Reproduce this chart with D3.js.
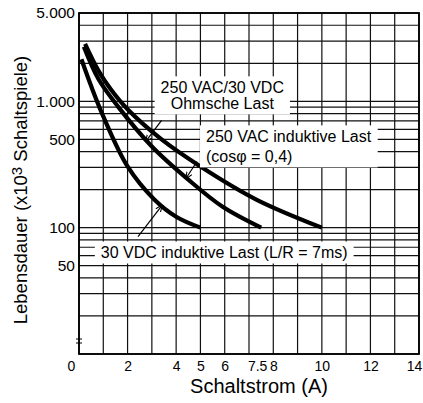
<!DOCTYPE html>
<html lang="de">
<head>
<meta charset="utf-8">
<title>Lebensdauer</title>
<script src="https://cdn.jsdelivr.net/npm/d3@7"></script>
<style>
  body { margin: 0; background: #fff; }
  text { font-family: "Liberation Sans", Arial, sans-serif; fill: #000; }
</style>
</head>
<body>
<script>
// Werte (Strom in A, Lebensdauer in x10^3 Schaltspielen)
var xTicks = [0, 2, 4, 5, 6, 7.5, 8, 10, 12, 14];
var yTicks = [50, 100, 500, 1000, 5000];
var yTickLabels = ["50", "100", "500", "1.000", "5.000"];

var ohmStrom = [0.25, 0.8, 1.3, 2.0, 3.4, 5.0, 7.3, 10];
var ohmLeben = [2850, 1750, 1250, 864, 499, 305, 167, 100];

var acStrom = [0.2, 0.8, 1.6, 3.0, 4.5, 5.9, 7.5];
var acLeben = [2700, 1500, 912, 439, 240, 147, 100];

var dcStrom = [0.1, 0.5, 1.0, 2.0, 3.1, 4.0, 5.0];
var dcLeben = [2150, 1320, 760, 305, 167, 122, 100];

var width = 423, height = 403;

var svg = d3.select("body").append("svg")
  .attr("width", width)
  .attr("height", height);

var x = d3.scaleLinear().domain([0, 14]).range([79, 419]);
var y = d3.scaleLog().domain([10, 5000]).range([354, 13]);

// Gitter
var grid = svg.append("g").attr("stroke", "#111").attr("stroke-width", 1.2);
grid.selectAll("line.v")
  .data(d3.range(0, 15))
  .enter().append("line")
  .attr("x1", d => x(d)).attr("x2", d => x(d))
  .attr("y1", y(5000)).attr("y2", y(10));
grid.selectAll("line.h")
  .data(y.ticks())
  .enter().append("line")
  .attr("x1", x(0)).attr("x2", x(14))
  .attr("y1", d => y(d)).attr("y2", d => y(d));

svg.append("rect")
  .attr("x", x(0)).attr("y", y(5000))
  .attr("width", x(14) - x(0)).attr("height", y(10) - y(5000))
  .attr("fill", "none").attr("stroke", "#000").attr("stroke-width", 1.8);

// kleine Bruchmarke an der y-Achse
svg.append("path")
  .attr("d", "M" + (x(0) - 3) + "," + (y(10) - 15) + "h6 M" + (x(0) - 3) + "," + (y(10) - 11) + "h6")
  .attr("stroke", "#000").attr("stroke-width", 1);

// Achsen
var xAxis = svg.append("g")
  .attr("transform", "translate(0," + y(10) + ")")
  .call(d3.axisBottom(x).tickValues(xTicks).tickSize(0).tickPadding(7).tickFormat(d => String(d)));
xAxis.select(".domain").remove();
xAxis.selectAll("text")
  .attr("font-size", 14)
  .style("font-family", '"Liberation Sans Narrow", "Arial Narrow", sans-serif')
  .attr("dx", d => d === 0 ? -8 : d === 7.5 ? -4 : d === 14 ? -5 : 0);

var yAxis = svg.append("g")
  .attr("transform", "translate(" + x(0) + ",0)")
  .call(d3.axisLeft(y).tickValues(yTicks).tickSize(0).tickPadding(4)
    .tickFormat((d, i) => yTickLabels[i]));
yAxis.select(".domain").remove();
yAxis.selectAll("text").attr("font-size", 15.5);

svg.append("text")
  .attr("x", 259).attr("y", 393)
  .attr("text-anchor", "middle")
  .attr("font-size", 20)
  .text("Schaltstrom (A)");

var yTitle = svg.append("text")
  .attr("transform", "translate(27,190) rotate(-90)")
  .attr("text-anchor", "middle")
  .attr("font-size", 18.5);
yTitle.append("tspan").text("Lebensdauer (x10");
yTitle.append("tspan").attr("dy", -5).attr("font-size", 15).text("3");
yTitle.append("tspan").attr("dy", 5).text(" Schaltspiele)");

// Kurven
var line = d3.line()
  .x(d => x(d[0]))
  .y(d => y(d[1]))
  .curve(d3.curveCatmullRom.alpha(0.5));

var series = [
  { strom: ohmStrom, leben: ohmLeben },
  { strom: acStrom, leben: acLeben },
  { strom: dcStrom, leben: dcLeben }
];

svg.append("g").selectAll("path")
  .data(series)
  .enter().append("path")
  .attr("d", s => line(d3.zip(s.strom, s.leben)))
  .attr("fill", "none")
  .attr("stroke", "#000")
  .attr("stroke-width", 4.2);

// Beschriftungen mit weissem Hintergrund
var labels = [
  { lines: ["250 VAC/30 VDC", "Ohmsche Last"], at: [5.9, 1156], step: 16, anchor: "middle" },
  { lines: ["250 VAC induktive Last", "(cos\u03c6 = 0,4)"], at: [5.23, 473], step: 20, anchor: "start" },
  { lines: ["30 VDC induktive Last (L/R = 7ms)"], at: [0.9, 57], step: 0, anchor: "start" }
];

labels.forEach(function(l) {
  var g = svg.append("g");
  var bg = g.append("rect").attr("fill", "#fff");
  var t = g.append("text")
    .attr("font-size", 16)
    .attr("text-anchor", l.anchor);
  l.lines.forEach(function(s, i) {
    t.append("tspan")
      .attr("x", x(l.at[0]))
      .attr("y", y(l.at[1]) + i * l.step)
      .text(s);
  });
  var b = t.node().getBBox();
  bg.attr("x", b.x - 6).attr("y", b.y - 3)
    .attr("width", b.width + 12).attr("height", b.height + 5);
});

// Hinweislinien
var pointers = [
  [[3.4, 706], [2.75, 482]],
  [[4.86, 334], [4.4, 245]],
  [[2.43, 85], [3.42, 150]]
];

svg.append("defs").append("marker")
  .attr("id", "pfeil")
  .attr("viewBox", "0 0 10 10")
  .attr("refX", 9).attr("refY", 5)
  .attr("markerWidth", 6).attr("markerHeight", 6)
  .attr("orient", "auto")
  .append("path").attr("d", "M0,1L10,5L0,9").attr("fill", "none").attr("stroke", "#000").attr("stroke-width", 1.5);

svg.append("g").selectAll("line")
  .data(pointers)
  .enter().append("line")
  .attr("x1", d => x(d[0][0])).attr("y1", d => y(d[0][1]))
  .attr("x2", d => x(d[1][0])).attr("y2", d => y(d[1][1]))
  .attr("stroke", "#000").attr("stroke-width", 1.2)
  .attr("marker-end", "url(#pfeil)");
</script>
</body>
</html>
